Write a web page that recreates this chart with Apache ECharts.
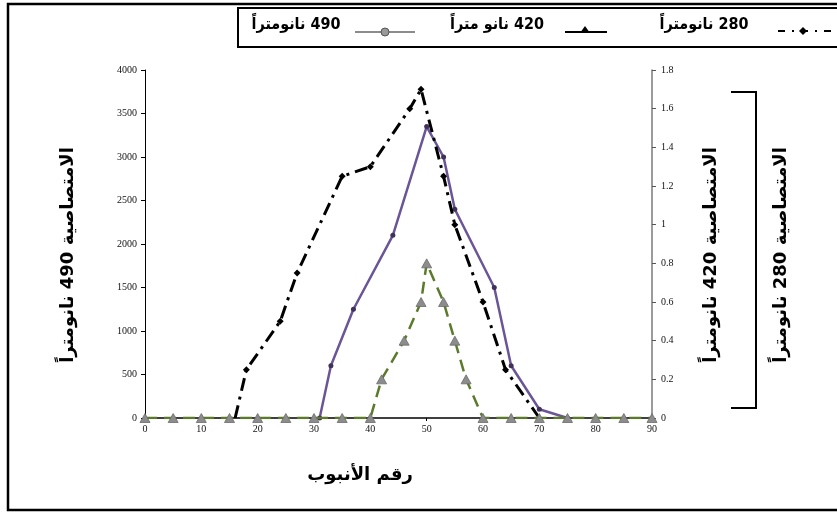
<!DOCTYPE html>
<html>
<head>
<meta charset="utf-8">
<script src="https://cdn.jsdelivr.net/npm/echarts@6/dist/echarts.min.js"></script>
<style>
  html, body { margin: 0; padding: 0; background: #fff; }
  #chart { width: 837px; height: 512px; direction: rtl; }
</style>
</head>
<body>
<div id="chart"></div>
<script>
// Tube numbers and absorbance readings for each wavelength
const tubes280 = [16, 18, 24, 27, 35, 40, 47, 49, 53, 55, 60, 64, 70];
const abs280   = [0, 0.25, 0.5, 0.75, 1.25, 1.3, 1.6, 1.7, 1.25, 1.0, 0.6, 0.25, 0];

const tubes490 = [31, 33, 37, 44, 50, 53, 55, 62, 65, 70, 75];
const abs490   = [0, 600, 1250, 2100, 3350, 3000, 2400, 1500, 600, 100, 0];

const tubes420 = [0, 5, 10, 15, 20, 25, 30, 35, 40, 42, 46, 49, 50, 53, 55, 57, 60, 65, 70, 75, 80, 85, 90];
const abs420   = [0, 0, 0, 0, 0, 0, 0, 0, 0, 0.2, 0.4, 0.6, 0.8, 0.6, 0.4, 0.2, 0, 0, 0, 0, 0, 0, 0];

// Axis ranges
const xTicks = { min: 0, max: 90, interval: 10 };
const leftTicks = { min: 0, max: 4000, interval: 500 };
const rightTicks = { min: 0, max: 1.8, interval: 0.2 };

// Text
const xTitle = 'رقم الأنبوب';
const title490 = 'الامتصاصية 490 نانومتراً';
const title420 = 'الامتصاصية 420 نانومتراً';
const title280 = 'الامتصاصية 280 نانومتراً';
const legend280 = '280 نانومتراً';
const legend420 = '420 نانو متراً';
const legend490 = '490 نانومتراً';

const pairs = (xs, ys) => xs.map((x, i) => [x, ys[i]]);

const tickFont = { fontFamily: 'Liberation Serif', fontSize: 10, color: '#111' };
const titleFont = 'bold 18px "DejaVu Sans"';
const legendFont = 'bold 16px "DejaVu Sans Condensed", "DejaVu Sans"';

const chart = echarts.init(document.getElementById('chart'), null, { renderer: 'canvas' });

chart.setOption({
  backgroundColor: '#fff',
  animation: false,
  grid: { left: 145, right: 185, top: 70, bottom: 94, containLabel: false },
  xAxis: {
    type: 'value', min: xTicks.min, max: xTicks.max, interval: xTicks.interval,
    axisLine: { lineStyle: { color: '#000', width: 1.5 } },
    axisTick: { show: true, length: 3, lineStyle: { color: '#000' } },
    axisLabel: Object.assign({ margin: 6, formatter: (v) => String(v) }, tickFont),
    splitLine: { show: false }
  },
  yAxis: [
    {
      type: 'value', position: 'left',
      min: leftTicks.min, max: leftTicks.max, interval: leftTicks.interval,
      axisLine: { show: true, lineStyle: { color: '#000', width: 1 } },
      axisTick: { show: true, length: 4, lineStyle: { color: '#000' } },
      axisLabel: Object.assign({ margin: 8, formatter: (v) => String(v) }, tickFont),
      splitLine: { show: false }
    },
    {
      type: 'value', position: 'right',
      min: rightTicks.min, max: rightTicks.max, interval: rightTicks.interval,
      axisLine: { show: true, lineStyle: { color: '#7a7a7a', width: 1.5 } },
      axisTick: { show: true, length: 4, lineStyle: { color: '#555' } },
      axisLabel: Object.assign({ margin: 9, formatter: (v) => String(Math.round(v * 10) / 10) }, tickFont),
      splitLine: { show: false }
    }
  ],
  series: [
    {
      name: legend280, type: 'line', yAxisIndex: 1,
      data: pairs(tubes280, abs280),
      symbol: 'diamond',
      symbolSize: (v) => (v[1] === 0 ? 0 : 7),
      itemStyle: { color: '#000' },
      lineStyle: { color: '#000', width: 3, type: [13, 6, 3, 6] },
      z: 3
    },
    {
      name: legend490, type: 'line', yAxisIndex: 0,
      data: pairs(tubes490, abs490),
      symbol: 'circle', symbolSize: 5,
      itemStyle: { color: '#3f3159' },
      lineStyle: { color: '#6a5596', width: 2.5 },
      z: 2
    },
    {
      name: legend420, type: 'line', yAxisIndex: 1,
      data: pairs(tubes420, abs420),
      symbol: 'triangle', symbolSize: [10, 9],
      itemStyle: { color: '#8c8c8c', borderColor: '#6b6b6b', borderWidth: 0.8 },
      lineStyle: { color: '#5b7a2b', width: 2.5, type: [12, 7] },
      z: 4
    }
  ],
  graphic: [
    // outer frame
    { type: 'rect', shape: { x: 8, y: 4, width: 900, height: 506 },
      style: { fill: null, stroke: '#000', lineWidth: 2.5 }, silent: true },
    // legend box
    { type: 'rect', shape: { x: 238, y: 8, width: 640, height: 39 },
      style: { fill: '#fff', stroke: '#000', lineWidth: 2 }, silent: true },
    // legend: 280
    { type: 'line', shape: { x1: 778, y1: 31, x2: 834, y2: 31 },
      style: { stroke: '#000', lineWidth: 2, lineDash: [7, 7, 2, 7] } },
    { type: 'polygon', shape: { points: [[803, 27], [807, 31], [803, 35], [799, 31]] },
      style: { fill: '#000' } },
    { type: 'text', x: 704, y: 25,
      style: { text: legend280, font: legendFont, fill: '#000', textAlign: 'center', textVerticalAlign: 'middle' } },
    // legend: 420
    { type: 'line', shape: { x1: 565, y1: 32, x2: 607, y2: 32 },
      style: { stroke: '#000', lineWidth: 2 } },
    { type: 'polygon', shape: { points: [[585, 26], [590, 33], [580, 33]] },
      style: { fill: '#000' } },
    { type: 'text', x: 497, y: 25,
      style: { text: legend420, font: legendFont, fill: '#000', textAlign: 'center', textVerticalAlign: 'middle' } },
    // legend: 490
    { type: 'line', shape: { x1: 355, y1: 32, x2: 415, y2: 32 },
      style: { stroke: '#8c8c8c', lineWidth: 2 } },
    { type: 'circle', shape: { cx: 385, cy: 32, r: 4 },
      style: { fill: '#9a9a9a', stroke: '#555', lineWidth: 1 } },
    { type: 'text', x: 296, y: 25,
      style: { text: legend490, font: legendFont, fill: '#000', textAlign: 'center', textVerticalAlign: 'middle' } },
    // axis titles
    { type: 'text', x: 68, y: 255, rotation: Math.PI / 2,
      style: { text: title490, font: titleFont, fill: '#000', textAlign: 'center', textVerticalAlign: 'middle' } },
    { type: 'text', x: 711, y: 255, rotation: Math.PI / 2,
      style: { text: title420, font: titleFont, fill: '#000', textAlign: 'center', textVerticalAlign: 'middle' } },
    { type: 'text', x: 781, y: 255, rotation: Math.PI / 2,
      style: { text: title280, font: titleFont, fill: '#000', textAlign: 'center', textVerticalAlign: 'middle' } },
    { type: 'text', x: 360, y: 475,
      style: { text: xTitle, font: 'bold 18px "DejaVu Sans"', fill: '#000', textAlign: 'center', textVerticalAlign: 'middle' } },
    // bracket grouping the right-axis titles
    { type: 'polyline', shape: { points: [[731, 92], [756, 92], [756, 408], [731, 408]] },
      style: { fill: null, stroke: '#000', lineWidth: 2 } }
  ]
});
</script>
</body>
</html>
